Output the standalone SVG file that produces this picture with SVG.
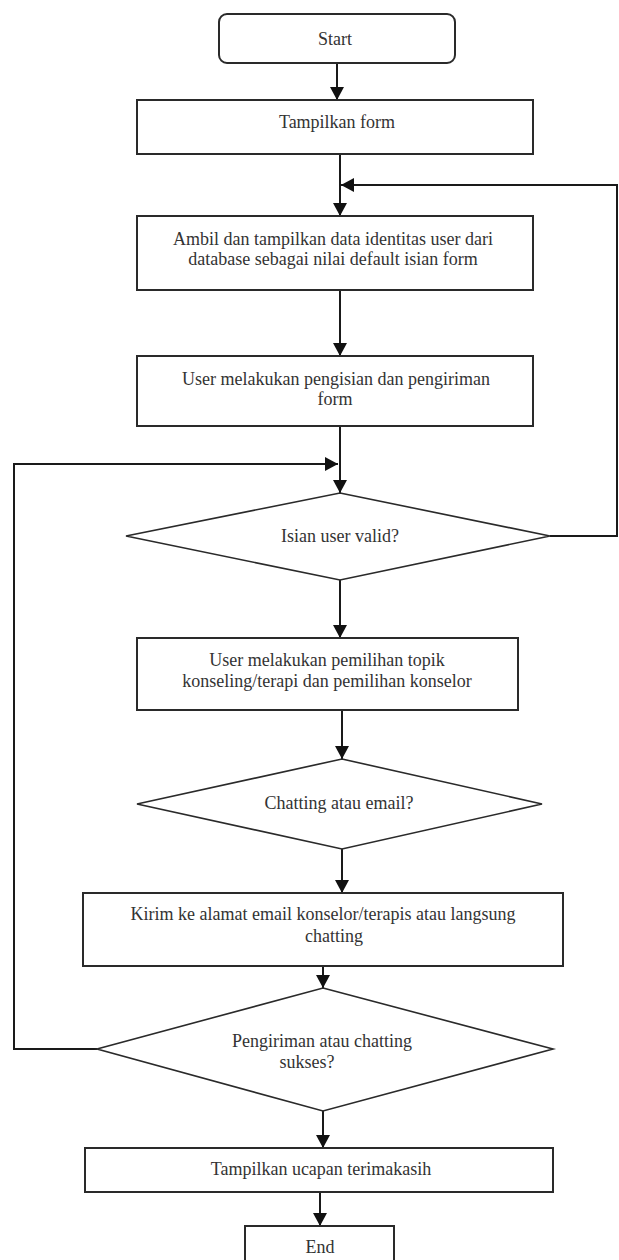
<svg xmlns="http://www.w3.org/2000/svg" width="619" height="1260" viewBox="0 0 619 1260">
<style>
.box{fill:#fff;stroke:#2a2a2a;stroke-width:2}
.dia{fill:#fff;stroke:#2a2a2a;stroke-width:1.6}
.t{font-family:"Liberation Serif","Times New Roman",serif;font-size:18px;fill:#333;text-anchor:middle}
.c{fill:none;stroke:#1a1a1a;stroke-width:2}
</style>
<defs>
<marker id="ah" markerWidth="13" markerHeight="14" viewBox="0 0 13 14" refX="13" refY="7" orient="auto" markerUnits="userSpaceOnUse">
<path d="M0,0 L13,7 L0,14 Z" fill="#111"/>
</marker>
</defs>
<rect width="619" height="1260" fill="#fff"/>
<g id="connectors">
<path class="c" d="M337,63 V100" marker-end="url(#ah)"/>
<path class="c" d="M340,154 V216" marker-end="url(#ah)"/>
<path class="c" d="M550,536 H617 V185 H341" marker-end="url(#ah)"/>
<path class="c" d="M340,290 V356" marker-end="url(#ah)"/>
<path class="c" d="M340,426 V493" marker-end="url(#ah)"/>
<path class="c" d="M97,1049 H14 V464 H338" marker-end="url(#ah)"/>
<path class="c" d="M340,580 V638" marker-end="url(#ah)"/>
<path class="c" d="M342,710 V759" marker-end="url(#ah)"/>
<path class="c" d="M342,849 V893" marker-end="url(#ah)"/>
<path class="c" d="M323,966 V988" marker-end="url(#ah)"/>
<path class="c" d="M323,1111 V1148" marker-end="url(#ah)"/>
<path class="c" d="M320,1192 V1226" marker-end="url(#ah)"/>
</g>
<g id="start">
<rect class="box" x="219" y="14" width="236" height="49" rx="8"/>
<text class="t" x="335" y="45">Start</text>
</g>
<g id="tampilkan-form">
<rect class="box" x="137" y="100" width="396" height="54"/>
<text class="t" x="337" y="128">Tampilkan form</text>
</g>
<g id="ambil-data">
<rect class="box" x="137" y="216" width="396" height="74"/>
<text class="t" x="333" y="245">Ambil dan tampilkan data identitas user dari</text>
<text class="t" x="333" y="265">database sebagai nilai default isian form</text>
</g>
<g id="user-isi-form">
<rect class="box" x="137" y="356" width="396" height="70"/>
<text class="t" x="336" y="385">User melakukan pengisian dan pengiriman</text>
<text class="t" x="335" y="405">form</text>
</g>
<g id="isian-valid">
<polygon class="dia" points="340,493 550,536 340,580 126,536"/>
<text class="t" x="340" y="542">Isian user valid?</text>
</g>
<g id="pilih-topik">
<rect class="box" x="137" y="638" width="381" height="72"/>
<text class="t" x="327" y="666">User melakukan pemilihan topik</text>
<text class="t" x="327" y="687">konseling/terapi dan pemilihan konselor</text>
</g>
<g id="chatting-email">
<polygon class="dia" points="342,759 542,804 342,849 137,804"/>
<text class="t" x="339" y="809">Chatting atau email?</text>
</g>
<g id="kirim">
<rect class="box" x="83" y="893" width="480" height="73"/>
<text class="t" x="323" y="920">Kirim ke alamat email konselor/terapis atau langsung</text>
<text class="t" x="334" y="942">chatting</text>
</g>
<g id="sukses">
<polygon class="dia" points="323,988 553,1049 323,1111 97,1049"/>
<text class="t" x="322" y="1047">Pengiriman atau chatting</text>
<text class="t" x="307" y="1068">sukses?</text>
</g>
<g id="terimakasih">
<rect class="box" x="85" y="1148" width="468" height="44"/>
<text class="t" x="321" y="1175">Tampilkan ucapan terimakasih</text>
</g>
<g id="end">
<rect class="box" x="245" y="1226" width="149" height="44"/>
<text class="t" x="320" y="1253">End</text>
</g>
</svg>
